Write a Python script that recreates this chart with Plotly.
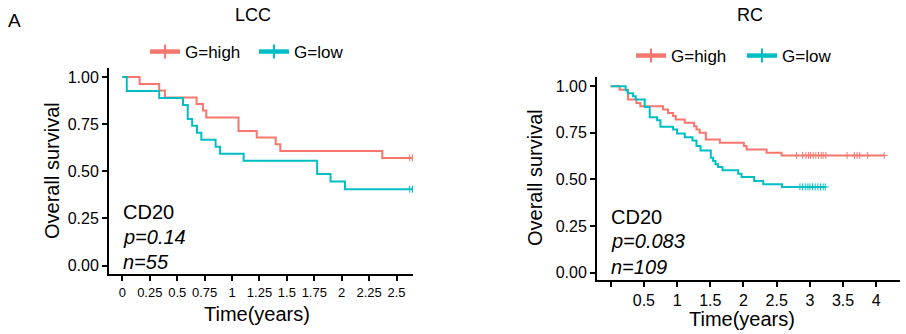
import numpy as np
import plotly.graph_objects as go

W, H = 906, 334
RED = "#F8766D"
CYAN = "#00BFC4"
FONT = "Liberation Sans, Arial, Helvetica, sans-serif"

# ---------------- data ----------------
panel_titles = ["LCC", "RC"]
group_names = ["G=high", "G=low"]

# LCC panel (Kaplan-Meier steps)
lcc_high_t = [0, 0.157, 0.336, 0.388, 0.677, 0.735, 0.765, 1.059, 1.225, 1.398, 1.44, 2.37, 2.645]
lcc_high_s = [1.0, 0.963, 0.929, 0.891, 0.857, 0.822, 0.786, 0.714, 0.679, 0.643, 0.607, 0.571, 0.571]
lcc_high_cens = [2.62, 2.645]

lcc_low_t = [0, 0.04, 0.336, 0.553, 0.596, 0.636, 0.68, 0.72, 0.85, 0.891, 1.106, 1.776, 1.898, 2.03, 2.645]
lcc_low_s = [1.0, 0.926, 0.889, 0.852, 0.778, 0.741, 0.704, 0.667, 0.630, 0.593, 0.556, 0.486, 0.446, 0.405, 0.405]
lcc_low_cens = [2.62, 2.645]

# RC panel
rc_high_t = [0, 0.136, 0.261, 0.387, 0.447, 0.789, 0.864, 0.94, 0.98, 1.116, 1.257, 1.292, 1.34,
             1.433, 1.644, 2.006, 2.046, 2.348, 2.574, 4.12]
rc_high_s = [1.0, 0.982, 0.929, 0.911, 0.893, 0.875, 0.857, 0.840, 0.822, 0.804, 0.786, 0.768, 0.750,
             0.715, 0.697, 0.679, 0.661, 0.643, 0.629, 0.629]
rc_high_cens = [2.80, 2.89, 2.94, 2.98, 3.01, 3.05, 3.09, 3.13, 3.17, 3.20, 3.24, 3.56, 3.67, 3.71,
                3.75, 3.87, 4.12]

rc_low_t = [0, 0.226, 0.256, 0.337, 0.377, 0.513, 0.588, 0.699, 0.749, 0.94, 1.0, 1.116, 1.232, 1.292,
            1.353, 1.508, 1.543, 1.578, 1.618, 1.684, 1.92, 1.97, 2.161, 2.297, 2.58, 3.23]
rc_low_s = [1.0, 0.979, 0.963, 0.947, 0.929, 0.889, 0.834, 0.818, 0.783, 0.768, 0.747, 0.727, 0.709, 0.679,
            0.656, 0.617, 0.599, 0.581, 0.567, 0.549, 0.531, 0.513, 0.492, 0.474, 0.460, 0.460]
rc_low_cens = [2.85, 2.89, 2.93, 2.97, 3.00, 3.04, 3.08, 3.12, 3.16, 3.20, 3.23]

lcc_xticks = [0, 0.25, 0.5, 0.75, 1, 1.25, 1.5, 1.75, 2, 2.25, 2.5]
lcc_xticktext = ["0", "0.25", "0.5", "0.75", "1", "1.25", "1.5", "1.75", "2", "2.25", "2.5"]
rc_xticks = [0, 0.5, 1, 1.5, 2, 2.5, 3, 3.5, 4]
rc_xticktext = ["", "0.5", "1", "1.5", "2", "2.5", "3", "3.5", "4"]
yticks = [0, 0.25, 0.5, 0.75, 1.0]
yticktext = ["0.00", "0.25", "0.50", "0.75", "1.00"]

lcc_info = ["CD20", "<i>p=0.14</i>", "<i>n=55</i>"]
rc_info = ["CD20", "<i>p=0.083</i>", "<i>n=109</i>"]


def px(x):
    return x / W


def py(y):
    return 1 - y / H


fig = go.Figure()


def add_curve(t, s, cens, color, xa, ya):
    fig.add_trace(go.Scatter(x=t, y=s, mode="lines", xaxis=xa, yaxis=ya,
                             line=dict(color=color, width=2, shape="hv"),
                             showlegend=False, hoverinfo="skip"))
    ta = np.array(t)
    sa = np.array(s)
    idx = np.searchsorted(ta, np.array(cens), side="right") - 1
    fig.add_trace(go.Scatter(x=cens, y=sa[idx], mode="markers", xaxis=xa, yaxis=ya,
                             marker=dict(symbol="cross-thin", size=5, color=color,
                                         line=dict(color=color, width=1)),
                             showlegend=False, hoverinfo="skip"))


add_curve(lcc_high_t, lcc_high_s, lcc_high_cens, RED, "x", "y")
add_curve(lcc_low_t, lcc_low_s, lcc_low_cens, CYAN, "x", "y")
add_curve(rc_high_t, rc_high_s, rc_high_cens, RED, "x2", "y2")
add_curve(rc_low_t, rc_low_s, rc_low_cens, CYAN, "x2", "y2")

# legend entries
for leg, xa, ya in [("legend", "x", "y"), ("legend2", "x2", "y2")]:
    for name, color in zip(group_names, [RED, CYAN]):
        fig.add_trace(go.Scatter(x=[None], y=[None], mode="lines+markers", name=name,
                                 xaxis=xa, yaxis=ya, legend=leg,
                                 line=dict(color=color, width=4.5),
                                 marker=dict(symbol="cross-thin", size=10, color=color,
                                             line=dict(color=color, width=2))))

axis_common = dict(showline=True, linecolor="black", linewidth=2, ticks="outside", ticklen=5,
                   tickwidth=1.5, tickcolor="black", showgrid=False, zeroline=False,
                   mirror=False, fixedrange=True)

fig.update_layout(
    width=W, height=H, margin=dict(l=0, r=0, t=0, b=0),
    paper_bgcolor="white", plot_bgcolor="white",
    font=dict(family=FONT, color="black"),
    xaxis=dict(domain=[px(109), px(413)], anchor="y", range=[-0.122, 2.65],
               tickvals=lcc_xticks, ticktext=lcc_xticktext,
               tickfont=dict(size=13, family=FONT, color="black"), **axis_common),
    yaxis=dict(domain=[py(274), py(68)], anchor="x", range=[-0.045, 1.048],
               tickvals=yticks, ticktext=yticktext,
               tickfont=dict(size=16, family=FONT, color="black"), **axis_common),
    xaxis2=dict(domain=[px(597), px(900)], anchor="y2", range=[-0.206, 4.357],
                tickvals=rc_xticks, ticktext=rc_xticktext,
                tickfont=dict(size=16, family=FONT, color="black"), **axis_common),
    yaxis2=dict(domain=[py(280), py(77)], anchor="x2", range=[-0.04, 1.05],
                tickvals=yticks, ticktext=yticktext,
                tickfont=dict(size=16, family=FONT, color="black"), **axis_common),
    legend=dict(orientation="h", x=px(145), y=py(52), xanchor="left", yanchor="middle",
                font=dict(size=17, family=FONT, color="black"), bgcolor="rgba(0,0,0,0)",
                itemwidth=30, tracegroupgap=0, entrywidth=64, entrywidthmode="pixels"),
    legend2=dict(orientation="h", x=px(631), y=py(56), xanchor="left", yanchor="middle",
                 font=dict(size=17, family=FONT, color="black"), bgcolor="rgba(0,0,0,0)",
                 itemwidth=30, tracegroupgap=0, entrywidth=66, entrywidthmode="pixels"),
    showlegend=True,
)

ann = []
ann.append(dict(text="A", x=px(14), y=py(20), font=dict(size=19)))
ann.append(dict(text=panel_titles[0], x=px(253), y=py(15), font=dict(size=18)))
ann.append(dict(text=panel_titles[1], x=px(750), y=py(15), font=dict(size=18)))
ann.append(dict(text="Overall survival", x=px(52), y=py(171), font=dict(size=20), textangle=-90))
ann.append(dict(text="Overall survival", x=px(535), y=py(178), font=dict(size=20), textangle=-90))
ann.append(dict(text="Time(years)", x=px(257), y=py(314), font=dict(size=20)))
ann.append(dict(text="Time(years)", x=px(742), y=py(319), font=dict(size=20)))
for i, (txt, yy) in enumerate(zip(lcc_info, [212, 237, 262])):
    ann.append(dict(text=txt, x=px(121), y=py(yy), xanchor="left", font=dict(size=20)))
for i, (txt, yy) in enumerate(zip(rc_info, [217, 241, 267])):
    ann.append(dict(text=txt, x=px(609), y=py(yy), xanchor="left", font=dict(size=20)))

for a in ann:
    a.setdefault("xanchor", "center")
    a.update(xref="paper", yref="paper", yanchor="middle", showarrow=False)
    a["font"].update(family=FONT, color="black")
fig.update_layout(annotations=ann)

fig.write_html("out.html")
